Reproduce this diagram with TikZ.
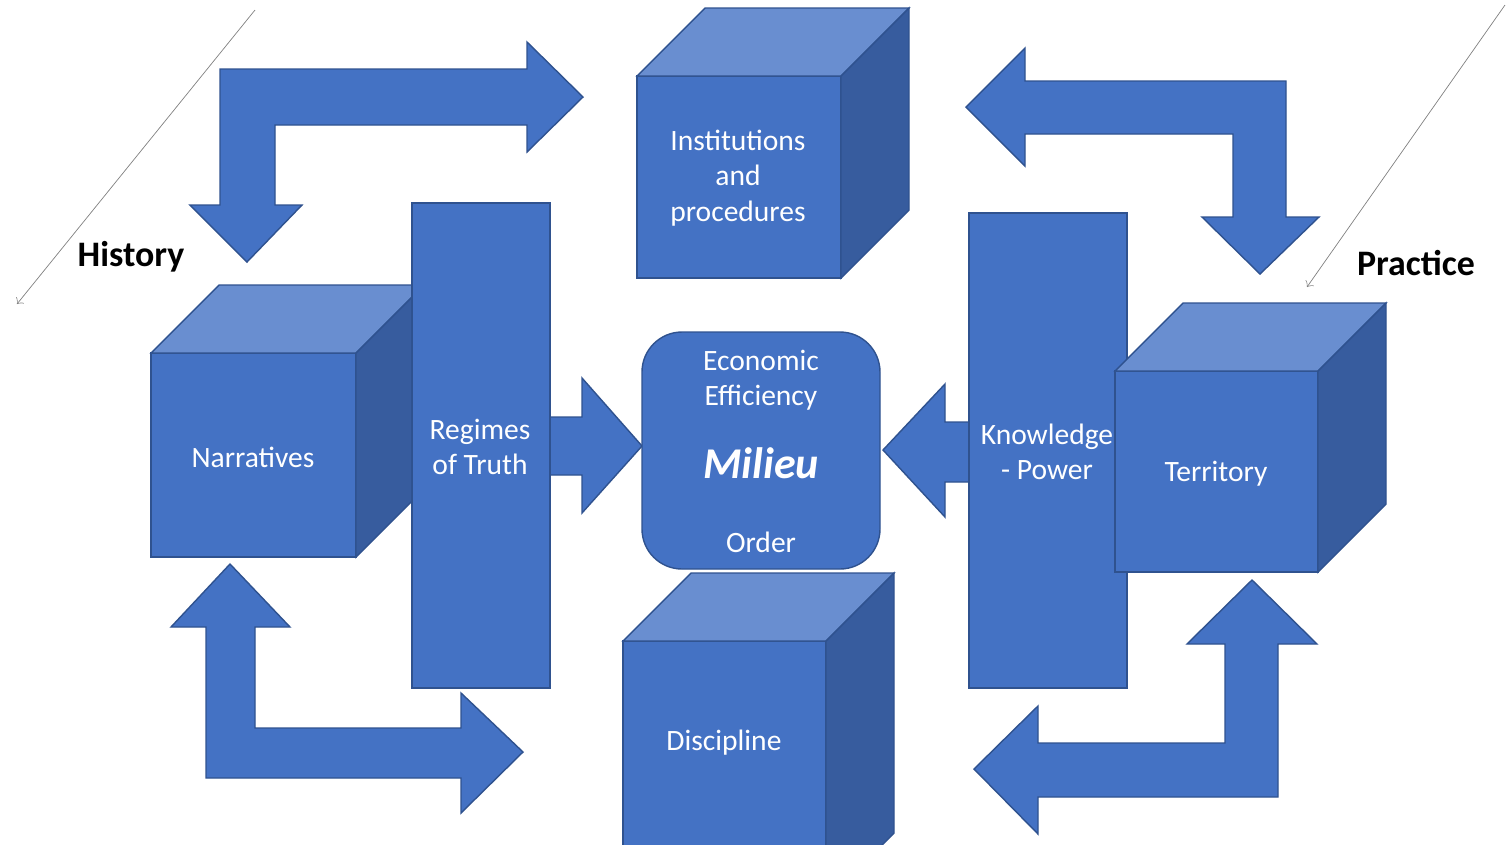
\documentclass[tikz,border=0pt]{standalone}
\usepackage{fontspec}
\setmainfont{Carlito}
\usepackage{tikz}
\definecolor{boxblue}{HTML}{4472C4}
\definecolor{boxtop}{HTML}{698ED0}
\definecolor{boxside}{HTML}{375C9E}
\definecolor{boxline}{HTML}{2F528F}
% cube: x, y of front top left corner, width, height, depth
\newcommand{\blockcube}[5]{%
  \filldraw[shapeedge,fill=boxblue] (#1,#2) rectangle ++(#3,#4);
  \filldraw[shapeedge,fill=boxtop] (#1,#2) -- ++(#5,-#5) -- ++(#3,0) -- ++(-#5,#5) -- cycle;
  \filldraw[shapeedge,fill=boxside] ({#1+#3},#2) -- ++(#5,-#5) -- ++(0,#4) -- ++(-#5,#5) -- cycle;
}

\begin{document}
\begin{tikzpicture}[x=0.01cm,y=-0.01cm,
    shapeedge/.style={draw=boxline,line width=.4pt},
    arrowblock/.style={shapeedge,fill=boxblue},
    boxtext/.style={text=white,font=\fontsize{8.4}{10}\selectfont,align=center,inner sep=0pt},
    sidetitle/.style={font=\fontsize{10.2}{12}\selectfont\bfseries,inner sep=0pt}]
    \useasboundingbox (0,0) rectangle (1508,844);
    %Bent arrows in the four corners
    \filldraw[arrowblock] (220,205) -- (190,205) -- (247,262) -- (302,205) -- (275,205) -- (275,125)
        -- (527,125) -- (527,152) -- (583,97) -- (527,42) -- (527,69) -- (220,69) -- cycle;
    \filldraw[arrowblock] (1286,81) -- (1025,81) -- (1025,48) -- (966,107) -- (1025,166) -- (1025,134)
        -- (1233,134) -- (1233,217) -- (1202,217) -- (1260,274) -- (1319,217) -- (1286,217) -- cycle;
    \filldraw[arrowblock] (206,778) -- (206,627) -- (171,627) -- (230,564) -- (290,627) -- (255,627)
        -- (255,728) -- (461,728) -- (461,693) -- (523,752) -- (461,813) -- (461,778) -- cycle;
    \filldraw[arrowblock] (1278,797) -- (1278,644) -- (1317,644) -- (1252,580) -- (1187,644) -- (1225,644)
        -- (1225,743) -- (1038,743) -- (1038,706) -- (974,769) -- (1038,834) -- (1038,797) -- cycle;
    %Arrows into the middle
    \filldraw[arrowblock] (540,417) -- (582,417) -- (582,378) -- (642,446) -- (582,513) -- (582,475) -- (540,475) -- cycle;
    \filldraw[arrowblock] (980,422) -- (945,422) -- (945,384) -- (883,450) -- (945,517) -- (945,482) -- (980,482) -- cycle;
    %Cubes and bars
    \blockcube{637}{76}{204}{202}{68}
    \blockcube{151}{353}{205}{204}{68}
    \filldraw[arrowblock] (412,203) rectangle (550,688);
    \filldraw[arrowblock,rounded corners=0.4cm] (642,332) rectangle (880,569);
    \blockcube{623}{641}{203}{260}{68}
    \filldraw[arrowblock] (969,213) rectangle (1127,688);
    \blockcube{1115}{371}{203}{201}{68}
    %Texts
    \node[boxtext] (inst) at (738,178) {Institutions\\and\\procedures};
    \node[boxtext] (narr) at (253,457) {Narratives};
    \node[boxtext] (regimes) at (480,447) {Regimes\\of Truth};
    \node[boxtext] (econ) at (761,380) {Economic\\Efficiency};
    \node[boxtext,font=\fontsize{12.5}{14}\selectfont\bfseries\itshape] (milieu) at (761,463) {Milieu};
    \node[boxtext] (order) at (761,542) {Order};
    \node[boxtext] (know) at (1047,452) {Knowledge\\- Power};
    \node[boxtext] (terr) at (1216,474) {Territory};
    \node[boxtext] (disc) at (724,743) {Discipline};
    \node[sidetitle] (history) at (131,257) {History};
    \node[sidetitle] (practice) at (1416,263) {Practice};
    %Thin diagonal arrows
    \coordinate (histstart) at (255,10);
    \coordinate (histend) at (17,304);
    \coordinate (pracstart) at (1505,5);
    \coordinate (pracend) at (1307,287);
    \draw[very thin,gray,->] (histstart) -- (histend);
    \draw[very thin,gray,->] (pracstart) -- (pracend);
\end{tikzpicture}
\end{document}
